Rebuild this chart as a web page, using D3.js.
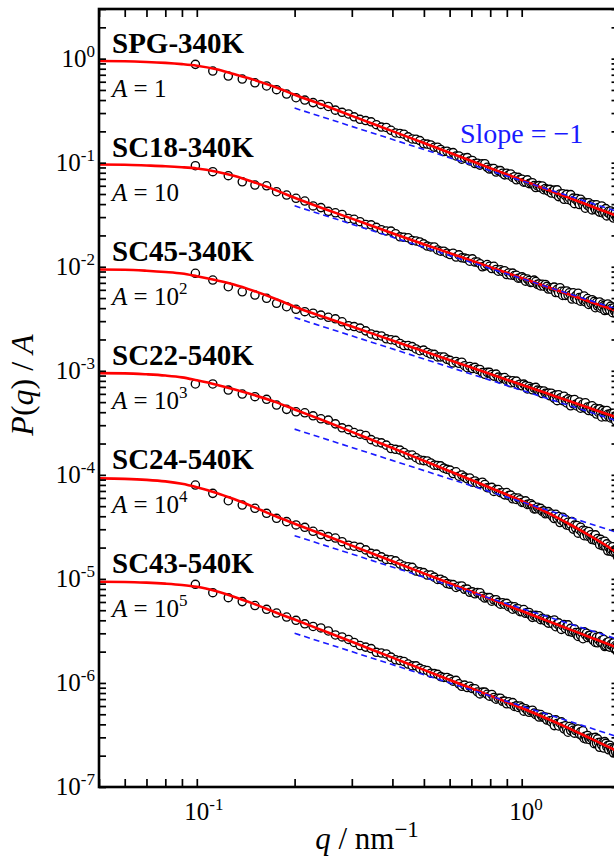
<!DOCTYPE html>
<html><head><meta charset="utf-8">
<script src="https://cdn.jsdelivr.net/npm/d3@7"></script>
<style>body{margin:0;background:#fff;overflow:hidden}</style>
</head><body>
<svg id="c" width="614" height="857"></svg>
<script>
// ---------- data ----------
const seriesNames = ["SPG-340K","SC18-340K","SC45-340K","SC22-540K","SC24-540K","SC43-540K"];
const aExponents = [0,1,2,3,4,5]; // A = 10^n
const q = [0.099,0.112,0.125,0.138,0.151,0.164,0.176,0.189,0.202,0.215,
0.228,0.241,0.254,0.267,0.280,0.293,0.305,0.318,0.331,0.344,
0.357,0.370,0.383,0.396,0.409,0.422,0.434,0.447,0.460,0.473,
0.486,0.499,0.512,0.525,0.538,0.551,0.563,0.576,0.589,0.602,
0.615,0.628,0.641,0.654,0.667,0.680,0.692,0.705,0.718,0.731,
0.744,0.757,0.770,0.783,0.796,0.809,0.821,0.834,0.847,0.860,
0.873,0.886,0.899,0.912,0.925,0.938,0.950,0.963,0.976,0.989,
1.002,1.015,1.028,1.041,1.054,1.067,1.079,1.092,1.105,1.118,
1.131,1.144,1.157,1.170,1.183,1.196,1.208,1.221,1.234,1.247,
1.260,1.273,1.286,1.299,1.312,1.325,1.337,1.350,1.363,1.376,
1.389,1.402,1.415,1.428,1.441,1.454,1.466,1.479,1.492,1.505,
1.518,1.531,1.544,1.557,1.570,1.583,1.595,1.608,1.621,1.634,
1.647,1.660,1.673,1.686,1.699,1.712,1.724,1.737,1.750,1.763,
1.776,1.789,1.802,1.815,1.828,1.841,1.853,1.866,1.879,1.892,
1.905,1.918,1.931,1.944,1.957,1.970,1.982,1.995];

const P1 = [.881,.760,.681,.637,.586,.546,.503,.457,.421,.400,
.378,.363,.347,.320,.305,.294,.276,.261,.254,.247,
.232,.220,.218,.205,.193,.191,.188,.177,.169,.168,
.163,.152,.151,.148,.141,.141,.134,.128,.129,.124,
.125,.116,.116,.108,.111,.112,.104,.105,.0981,.0989,
.0948,.0977,.0978,.0904,.0868,.0877,.0879,.0813,.0839,.0840,
.0793,.0764,.0791,.0762,.0779,.0721,.0732,.0685,.0723,.0691,
.0694,.0650,.0654,.0684,.0629,.0638,.0643,.0603,.0577,.0598,
.0602,.0576,.0598,.0550,.0566,.0552,.0534,.0555,.0511,.0537,
.0545,.0498,.0548,.0472,.0501,.0480,.0504,.0445,.0483,.0496,
.0444,.0458,.0494,.0427,.0457,.0404,.0444,.0452,.0417,.0396,
.0446,.0417,.0393,.0417,.0365,.0413,.0389,.0413,.0374,.0391,
.0352,.0395,.0372,.0354,.0394,.0355,.0370,.0335,.0356,.0384,
.0329,.0350,.0330,.0362,.0308,.0332,.0342,.0320,.0343,.0306,
.0329,.0294,.0317,.0336,.0297,.0312,.0286,.0317];

const P2 = [.935,.820,.750,.655,.610,.600,.526,.489,.455,.428,
.384,.370,.341,.330,.318,.291,.286,.271,.255,.253,
.239,.227,.221,.220,.208,.194,.192,.190,.179,.177,
.173,.166,.158,.155,.155,.145,.141,.141,.135,.131,
.135,.124,.130,.122,.121,.119,.113,.119,.111,.111,
.107,.0998,.102,.105,.101,.0961,.101,.0941,.0906,.0937,
.0903,.0916,.0841,.0871,.0832,.0868,.0823,.0828,.0776,.0781,
.0800,.0775,.0727,.0762,.0737,.0705,.0711,.0744,.0721,.0677,
.0682,.0654,.0679,.0651,.0676,.0648,.0610,.0628,.0609,.0632,
.0637,.0565,.0607,.0564,.0629,.0582,.0530,.0581,.0530,.0585,
.0535,.0563,.0536,.0489,.0562,.0504,.0525,.0485,.0557,.0507,
.0467,.0508,.0478,.0523,.0460,.0475,.0495,.0434,.0472,.0445,
.0482,.0446,.0465,.0404,.0453,.0419,.0436,.0459,.0400,.0414,
.0439,.0423,.0379,.0421,.0386,.0439,.0400,.0381,.0419,.0400,
.0362,.0401,.0375,.0384,.0354,.0404,.0361,.0389];

const P3 = [.865,.745,.643,.575,.535,.497,.445,.413,.390,.370,
.358,.343,.327,.316,.296,.271,.266,.257,.242,.226,
.219,.216,.203,.199,.196,.183,.175,.175,.171,.162,
.156,.158,.150,.145,.144,.136,.136,.136,.129,.126,
.119,.123,.118,.121,.112,.107,.110,.105,.108,.103,
.103,.0961,.0925,.0966,.0967,.0922,.0889,.0929,.0869,.0838,
.0857,.0862,.0808,.0812,.0767,.0803,.0768,.0796,.0731,.0743,
.0717,.0745,.0720,.0669,.0708,.0678,.0657,.0682,.0693,.0652,
.0631,.0642,.0604,.0640,.0608,.0606,.0611,.0575,.0609,.0568,
.0544,.0584,.0516,.0589,.0545,.0555,.0517,.0570,.0517,.0491,
.0538,.0512,.0461,.0527,.0482,.0531,.0478,.0459,.0489,.0502,
.0437,.0461,.0480,.0443,.0494,.0431,.0449,.0415,.0451,.0426,
.0461,.0406,.0424,.0437,.0384,.0421,.0398,.0431,.0399,.0360,
.0417,.0386,.0403,.0361,.0416,.0382,.0364,.0384,.0352,.0390,
.0357,.0391,.0359,.0331,.0372,.0348,.0374,.0333];

const P4 = [.747,.747,.653,.598,.564,.532,.469,.426,.404,.395,
.369,.346,.336,.309,.283,.272,.255,.246,.239,.218,
.207,.203,.193,.179,.176,.173,.164,.155,.155,.146,
.139,.137,.136,.130,.124,.123,.122,.116,.113,.111,
.103,.107,.0970,.0996,.0951,.0917,.0933,.0851,.0874,.0828,
.0825,.0849,.0808,.0753,.0751,.0758,.0693,.0722,.0723,.0674,
.0674,.0642,.0676,.0632,.0639,.0589,.0603,.0580,.0599,.0577,
.0543,.0545,.0563,.0520,.0522,.0527,.0509,.0470,.0472,.0488,
.0470,.0476,.0446,.0451,.0422,.0428,.0443,.0419,.0421,.0394,
.0380,.0418,.0381,.0398,.0348,.0368,.0392,.0350,.0373,.0329,
.0351,.0325,.0334,.0355,.0301,.0329,.0308,.0326,.0275,.0298,
.0314,.0283,.0294,.0260,.0290,.0275,.0257,.0286,.0257,.0266,
.0239,.0253,.0237,.0265,.0233,.0245,.0231,.0213,.0240,.0226,
.0208,.0212,.0230,.0204,.0217,.0186,.0201,.0207,.0184,.0190,
.0204,.0180,.0190,.0181,.0192,.0164,.0181,.0165];

const P5 = [.798,.664,.564,.513,.477,.427,.382,.355,.330,.313,
.287,.267,.255,.247,.228,.211,.206,.201,.190,.176,
.173,.163,.154,.153,.149,.139,.133,.131,.129,.119,
.117,.115,.109,.109,.104,.0987,.0992,.0957,.0903,.0888,
.0881,.0827,.0849,.0855,.0794,.0798,.0743,.0750,.0719,.0740,
.0737,.0682,.0655,.0662,.0661,.0610,.0630,.0631,.0595,.0572,
.0591,.0570,.0582,.0540,.0546,.0511,.0540,.0516,.0517,.0484,
.0486,.0508,.0467,.0474,.0476,.0446,.0427,.0443,.0446,.0427,
.0442,.0406,.0418,.0408,.0395,.0409,.0376,.0395,.0394,.0370,
.0403,.0347,.0369,.0378,.0345,.0327,.0355,.0365,.0333,.0349,
.0362,.0312,.0335,.0308,.0318,.0330,.0305,.0290,.0280,.0307,
.0286,.0304,.0266,.0310,.0290,.0301,.0273,.0285,.0287,.0271,
.0271,.0257,.0287,.0245,.0274,.0243,.0259,.0279,.0246,.0256,
.0240,.0262,.0224,.0229,.0244,.0232,.0249,.0221,.0231,.0238,
.0229,.0243,.0214,.0229,.0205,.0229,.0220,.0202];

const P6 = [.887,.737,.660,.605,.555,.510,.470,.430,.400,.370,
.349,.338,.316,.289,.277,.262,.245,.229,.221,.214,
.197,.194,.190,.177,.167,.164,.161,.152,.146,.146,
.138,.134,.132,.124,.123,.121,.115,.113,.113,.109,
.104,.106,.0982,.0929,.0954,.0903,.0929,.0883,.0880,.0819,
.0784,.0817,.0817,.0778,.0747,.0776,.0726,.0698,.0713,.0714,
.0666,.0669,.0631,.0659,.0628,.0648,.0595,.0603,.0581,.0600,
.0579,.0536,.0566,.0542,.0522,.0540,.0547,.0513,.0496,.0503,
.0470,.0497,.0471,.0468,.0470,.0440,.0466,.0433,.0422,.0438,
.0389,.0442,.0408,.0386,.0413,.0423,.0382,.0362,.0388,.0359,
.0336,.0382,.0349,.0369,.0351,.0329,.0349,.0358,.0361,.0323,
.0339,.0312,.0347,.0293,.0308,.0289,.0313,.0294,.0285,.0296,
.0290,.0298,.0261,.0300,.0263,.0290,.0268,.0241,.0269,.0253,
.0266,.0237,.0273,.0263,.0243,.0250,.0228,.0252,.0238,.0226,
.0231,.0212,.0237,.0218,.0239,.0209,.0214,.0229];

// fitted curves (red), read at these q
const fitQ = [0.05,0.06,0.07,0.08,0.09,0.1,0.115,0.13,0.15,0.175,0.2,0.25,0.3,0.4,0.5,0.65,0.8,1.0,1.2,1.4,1.6,1.8,2.0];
const fit1 = [0.95,0.945,0.93,0.91,0.885,0.855,0.79,0.71,0.625,0.53,0.45,0.350,0.282,0.201,0.1545,0.1134,0.0887,0.0682,0.0550,0.0459,0.0392,0.0341,0.0301];
const fit2 = [0.96,0.955,0.94,0.925,0.905,0.88,0.82,0.75,0.65,0.545,0.46,0.355,0.290,0.2096,0.1647,0.1241,0.0991,0.0779,0.0640,0.0542,0.0469,0.0413,0.0368];
const fit3 = [0.94,0.935,0.915,0.89,0.86,0.81,0.74,0.675,0.585,0.49,0.413,0.3235,0.2662,0.1956,0.1541,0.1164,0.0932,0.0734,0.0604,0.0512,0.0444,0.0391,0.0350];
const fit4 = [0.95,0.945,0.925,0.90,0.865,0.81,0.735,0.665,0.585,0.50,0.425,0.325,0.259,0.1812,0.1365,0.0979,0.0752,0.0562,0.0433,0.0337,0.0267,0.0214,0.0172];
const fit5 = [0.925,0.915,0.895,0.865,0.82,0.76,0.67,0.585,0.49,0.40,0.3394,0.2597,0.2087,0.1477,0.1130,0.0825,0.0643,0.0492,0.0395,0.0329,0.0280,0.0243,0.0214];
const fit6 = [0.94,0.935,0.92,0.90,0.875,0.84,0.76,0.675,0.575,0.475,0.4064,0.310,0.2484,0.1752,0.1336,0.0972,0.0755,0.0575,0.0453,0.0366,0.0301,0.0253,0.0216];

// slope = -1 guide lines (blue dashed): value at q = 0.2 and q = 2
const slopeQ = [0.2, 2.0];
const slopeStart = [0.335, 0.385, 0.325, 0.275, 0.26, 0.30];
const slopeEnd   = [0.0335, 0.0385, 0.0325, 0.0275, 0.026, 0.030];

const xLabelExps = [-1, 0];
const yLabelExps = [-7,-6,-5,-4,-3,-2,-1,0];

const P = [P1,P2,P3,P4,P5,P6];
const fits = [fit1,fit2,fit3,fit4,fit5,fit6];

// ---------- drawing ----------
const FONT = "'Liberation Serif','Times New Roman',serif";
const svg = d3.select("#c");
const L = 99, R = 619.5, T = 9, B = 787;
const x = d3.scaleLog().domain([0.05, 2]).range([L, R]);
const y = d3.scaleLog().domain([1e-7, 3]).range([B, T]);

svg.append("defs").append("clipPath").attr("id","clip")
  .append("rect").attr("x",L).attr("y",T).attr("width",R-L).attr("height",B-T);

const plot = svg.append("g").attr("clip-path","url(#clip)");

// circles
P.forEach((vals, k) => {
  const A = Math.pow(10, aExponents[k]);
  plot.append("g").selectAll("circle")
    .data(q.map((qq,i)=>[qq, vals[i]/A]))
    .join("circle")
    .attr("cx", d=>x(d[0])).attr("cy", d=>y(d[1]))
    .attr("r", 4.1).attr("fill","#fff").attr("stroke","#000").attr("stroke-width",1.35);
});

// red fits
const line = d3.line().x(d=>x(d[0])).y(d=>y(d[1])).curve(d3.curveMonotoneX);
fits.forEach((f, k) => {
  const A = Math.pow(10, aExponents[k]);
  plot.append("path").attr("d", line(fitQ.map((qq,i)=>[qq, f[i]/A])))
    .attr("fill","none").attr("stroke","#ff0000").attr("stroke-width",2.6);
});

// blue slope lines
slopeStart.forEach((s, k) => {
  const A = Math.pow(10, aExponents[k]);
  plot.append("path").attr("d", d3.line().x(d=>x(d[0])).y(d=>y(d[1]))([[slopeQ[0], s/A],[slopeQ[1], slopeEnd[k]/A]]))
    .attr("fill","none").attr("stroke","#1a1aff").attr("stroke-width",1.6).attr("stroke-dasharray","6,4");
});

// axes ticks
const xt = [];
[0.01,0.1,1].forEach(d => { for (let m=1;m<=9;m++){ const v=d*m; if (v>=0.05-1e-9 && v<=2+1e-9) xt.push(v);} });
const yt = [];
for (let e=-7;e<=0;e++){ for (let m=1;m<=9;m++){ const v=m*Math.pow(10,e); if (v<=3+1e-9) yt.push(v);} }

function styleAxis(g){
  g.select(".domain").remove();
  g.selectAll(".tick line").attr("stroke","#000").attr("stroke-width",1.7);
}
svg.append("g").attr("transform",`translate(0,${B})`)
  .call(d3.axisBottom(x).tickValues(xt).tickSizeInner(-8).tickSizeOuter(0).tickFormat("")).call(styleAxis);
svg.append("g").attr("transform",`translate(0,${T})`)
  .call(d3.axisTop(x).tickValues(xt).tickSizeInner(-8).tickSizeOuter(0).tickFormat("")).call(styleAxis);
svg.append("g").attr("transform",`translate(${L},0)`)
  .call(d3.axisLeft(y).tickValues(yt).tickSizeInner(-7).tickSizeOuter(0).tickFormat("")).call(styleAxis);
svg.append("g").attr("transform",`translate(${R},0)`)
  .call(d3.axisRight(y).tickValues(yt).tickSizeInner(-8).tickSizeOuter(0).tickFormat("")).call(styleAxis);

svg.append("rect").attr("x",L).attr("y",T).attr("width",R-L).attr("height",B-T)
  .attr("fill","none").attr("stroke","#000").attr("stroke-width",2.6);

// tick labels
yLabelExps.forEach(e => {
  const t = svg.append("text").attr("x",95).attr("y", y(Math.pow(10,e))+8)
    .attr("text-anchor","end").attr("font-family",FONT).attr("font-size",25).attr("fill","#000");
  t.append("tspan").text("10");
  t.append("tspan").attr("dy",-10).attr("font-size",17).text(String(e));
});
xLabelExps.forEach(e => {
  const t = svg.append("text").attr("x", x(Math.pow(10,e)) - 12.5).attr("y", 820)
    .attr("font-family",FONT).attr("font-size",25).attr("fill","#000");
  t.append("tspan").text("10");
  t.append("tspan").attr("dy",-10).attr("font-size",17).text(String(e));
});

// series labels
seriesNames.forEach((name, k) => {
  const A = Math.pow(10, aExponents[k]);
  svg.append("text").attr("x",112).attr("y", y(1/A)-6)
    .attr("font-family",FONT).attr("font-size",29).attr("font-weight","bold").text(name);
  const t = svg.append("text").attr("x",112).attr("y", y(1/A)+38.5)
    .attr("font-family",FONT).attr("font-size",25);
  t.append("tspan").attr("font-style","italic").text("A");
  const n = aExponents[k];
  if (n === 0) t.append("tspan").text(" = 1");
  else if (n === 1) t.append("tspan").text(" = 10");
  else { t.append("tspan").text(" = 10"); t.append("tspan").attr("dy",-11).attr("font-size",17).text(String(n)); }
});

// slope annotation
svg.append("text").attr("x",460).attr("y",143).attr("font-family",FONT).attr("font-size",28)
  .attr("fill","#1a1aff").text("Slope = \u22121");

// axis titles
const xt2 = svg.append("text").attr("x",367).attr("y",849).attr("text-anchor","middle")
  .attr("font-family",FONT).attr("font-size",31);
xt2.append("tspan").attr("font-style","italic").text("q");
xt2.append("tspan").text(" / nm");
xt2.append("tspan").attr("dy",-12).attr("font-size",23).text("\u22121");

const yt2 = svg.append("text").attr("transform","translate(33,385) rotate(-90)").attr("text-anchor","middle")
  .attr("font-family",FONT).attr("font-size",32);
yt2.append("tspan").attr("font-style","italic").text("P");
yt2.append("tspan").text("(");
yt2.append("tspan").attr("font-style","italic").text("q");
yt2.append("tspan").text(") / ");
yt2.append("tspan").attr("font-style","italic").text("A");
</script>
</body></html>
